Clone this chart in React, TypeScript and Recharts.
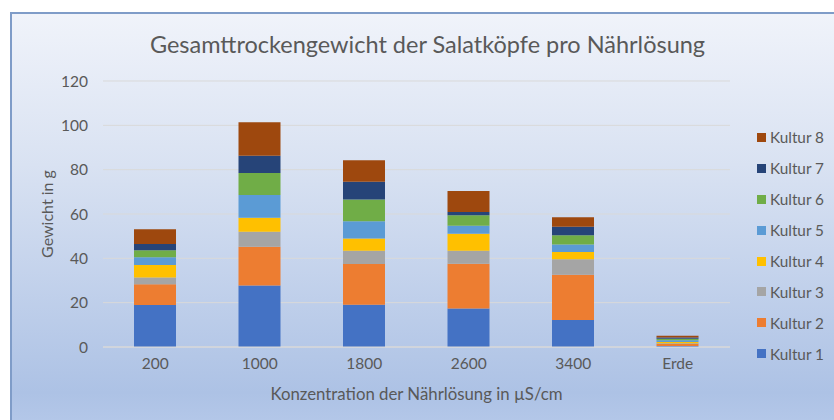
import { BarChart, Bar, XAxis, YAxis, CartesianGrid, Label } from 'recharts';

const categories = ['200', '1000', '1800', '2600', '3400', 'Erde'];
const kultur1 = [18.9, 27.8, 19.1, 17.4, 12.2, 0.5];
const kultur2 = [9.4, 17.4, 18.3, 20.2, 20.4, 0.8];
const kultur3 = [3.1, 6.8, 6.0, 5.8, 7.0, 0.4];
const kultur4 = [5.6, 6.3, 5.5, 7.7, 3.3, 0.6];
const kultur5 = [3.5, 10.3, 7.8, 3.6, 3.3, 0.8];
const kultur6 = [3.1, 9.9, 9.8, 4.7, 4.2, 0.6];
const kultur7 = [2.9, 7.8, 8.1, 1.5, 3.9, 0.6];
const kultur8 = [6.6, 15.1, 9.6, 9.5, 4.2, 0.8];
const yTicks = [0, 20, 40, 60, 80, 100, 120];

const series = [
  { key: 'Kultur 1', values: kultur1, color: '#4472c4' },
  { key: 'Kultur 2', values: kultur2, color: '#ed7d31' },
  { key: 'Kultur 3', values: kultur3, color: '#a5a5a5' },
  { key: 'Kultur 4', values: kultur4, color: '#ffc000' },
  { key: 'Kultur 5', values: kultur5, color: '#5b9bd5' },
  { key: 'Kultur 6', values: kultur6, color: '#70ad47' },
  { key: 'Kultur 7', values: kultur7, color: '#264478' },
  { key: 'Kultur 8', values: kultur8, color: '#9e480e' },
];

const data = categories.map((name, i) => {
  const row: Record<string, string | number> = { name };
  series.forEach((s) => {
    row[s.key] = s.values[i];
  });
  return row;
});

const FONT = 'Lato, "Open Sans", sans-serif';
const TEXT = '#595959';

function LegendBox() {
  return (
    <div style={{ position: 'absolute', left: 757, top: 122, fontFamily: FONT, fontSize: 15.3, color: TEXT }}>
      {[...series].reverse().map((s) => (
        <div key={s.key} style={{ display: 'flex', alignItems: 'center', height: 30.9 }}>
          <span style={{ width: 9, height: 9, background: s.color, marginRight: 4, display: 'inline-block' }} />
          <span>{s.key}</span>
        </div>
      ))}
    </div>
  );
}

export default function App() {
  return (
    <div style={{ position: 'fixed', left: 0, top: 0, width: 834, height: 420, background: '#fff', overflow: 'hidden' }}>
      <div
        style={{
          position: 'absolute',
          left: 10,
          top: 12,
          width: 840,
          height: 430,
          borderTop: '2px solid #7f9cc8',
          borderLeft: '2px solid #7f9cc8',
          background: 'linear-gradient(to bottom, #f0f3fa 0%, #d9e2f2 35%, #adc2e5 88%, #b8cbeb 100%)',
        }}
      />
      <div
        style={{
          position: 'absolute',
          left: 0,
          top: 30,
          width: 855,
          textAlign: 'center',
          fontFamily: FONT,
          fontSize: 23.5,
          color: TEXT,
        }}
      >
        Gesamttrockengewicht der Salatköpfe pro Nährlösung
      </div>
      <div
        style={{
          position: 'absolute',
          left: 46,
          top: 214,
          transform: 'translate(-50%, -50%) rotate(-90deg)',
          fontFamily: FONT,
          fontSize: 16,
          color: TEXT,
          whiteSpace: 'nowrap',
        }}
      >
        Gewicht in g
      </div>
      <div style={{ position: 'absolute', left: 0, top: 0 }}>
        <BarChart
          width={834}
          height={420}
          data={data}
          barSize={42}
          margin={{ top: 81, right: 104, left: 0, bottom: 0 }}
          style={{ fontFamily: FONT }}
        >
          <CartesianGrid vertical={false} stroke="#d9d9d9" strokeWidth={1} />
          <XAxis
            dataKey="name"
            height={73}
            tickLine={false}
            tickSize={0}
            tickMargin={11}
            axisLine={{ stroke: '#d9d9d9' }}
            tick={{ fill: TEXT, fontSize: 15.5 }}
          >
            <Label
              value="Konzentration der Nährlösung in µS/cm"
              position="insideBottom"
              offset={20}
              style={{ fill: TEXT, fontSize: 16.8 }}
            />
          </XAxis>
          <YAxis
            width={103}
            domain={[0, 120]}
            ticks={yTicks}
            tickLine={false}
            tickSize={0}
            tickMargin={15}
            axisLine={false}
            tick={{ fill: TEXT, fontSize: 15.5 }}
          />
          {series.map((s) => (
            <Bar key={s.key} dataKey={s.key} stackId="a" fill={s.color} isAnimationActive={false} />
          ))}
        </BarChart>
      </div>
      <LegendBox />
    </div>
  );
}
